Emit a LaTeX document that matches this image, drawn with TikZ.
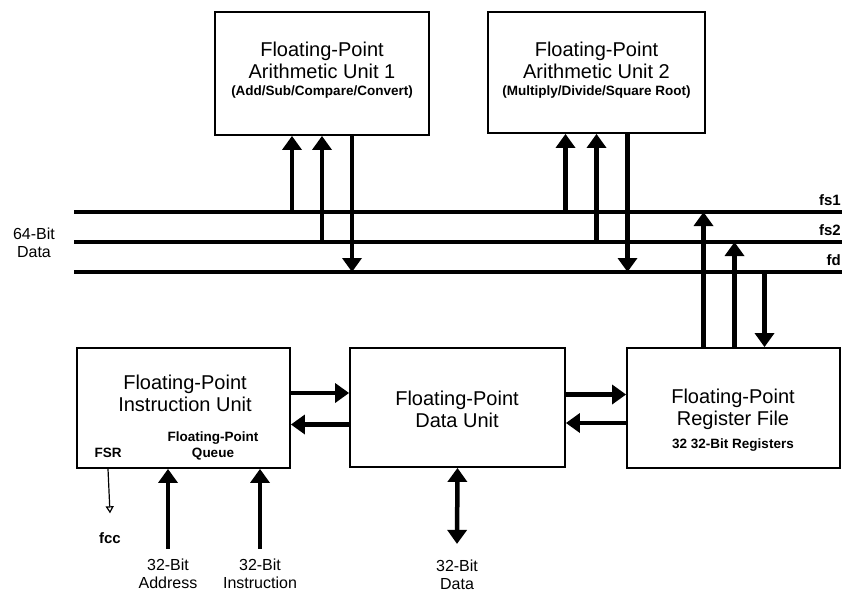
\documentclass[tikz,border=0pt]{standalone}
\usepackage{fontspec}
\setmainfont{Liberation Sans}
\usetikzlibrary{arrows.meta,calc}

\begin{document}
\begin{tikzpicture}[x=1pt,y=-1pt,
  every node/.style={font=\fontsize{20}{22}\selectfont,align=center,inner sep=0pt},
  unit/.style={draw,line width=1.8pt},
  subtext/.style={font=\bfseries\fontsize{13.5}{16}\selectfont},
  lbl/.style={font=\fontsize{16}{18}\selectfont},
  buslbl/.style={font=\bfseries\fontsize{15}{17}\selectfont},
  bus/.style={line width=4.5pt},
  wide/.style={line width=4.5pt,-{Triangle[width=19pt,length=14pt]}},
  wide2/.style={line width=4.5pt,{Triangle[width=19pt,length=14pt]}-{Triangle[width=19pt,length=14pt]}}]
\useasboundingbox (0,0) rectangle (842,594);
\node[unit,minimum width=214pt,minimum height=123pt] (AU1) at (322,73.5) {};
\node[unit,minimum width=217pt,minimum height=121pt] (AU2) at (596.5,72.5) {};
\node[unit,minimum width=213pt,minimum height=120pt] (IU) at (183.5,408) {};
\node[unit,minimum width=215pt,minimum height=119pt] (DU) at (457.5,407.5) {};
\node[unit,minimum width=213pt,minimum height=120pt] (RF) at (733.5,408) {};
\node (AU1t) at (322,60) {Floating-Point\\Arithmetic Unit 1};
\node[subtext] (AU1s) at (322,92) {(Add/Sub/Compare/Convert)};
\node (AU2t) at (596.5,60) {Floating-Point\\Arithmetic Unit 2};
\node[subtext] (AU2s) at (596.5,92) {(Multiply/Divide/Square Root)};
\node (IUt) at (185,393) {Floating-Point\\Instruction Unit};
\node[subtext] (FSR) at (108,453) {FSR};
\node[subtext] (FPQ) at (213,446) {Floating-Point\\Queue};
\node (DUt) at (457,409) {Floating-Point\\Data Unit};
\node (RFt) at (733,409) {Floating-Point\\Register File};
\node[subtext] (RFs) at (733,445) {32 32-Bit Registers};
\foreach \b/\y in {1/212,2/242,3/272}{
  \coordinate (W\b) at (74,\y);
  \coordinate (E\b) at (842,\y);
  \draw[bus] (W\b) -- (E\b);
}
\node[buslbl,anchor=south east] (fs1) at ([xshift=-1pt,yshift=6pt]E1) {fs1};
\node[buslbl,anchor=south east] (fs2) at ([xshift=-1pt,yshift=6pt]E2) {fs2};
\node[buslbl,anchor=south east] (fd) at ([xshift=-1pt,yshift=6pt]E3) {fd};
\node[lbl] (data64) at (34,243) {64-Bit\\Data};
\foreach \u/\dx/\s in {AU1/-30/W1,AU1/0/W2,AU2/-31/W1,AU2/0/W2}
  \draw[wide] ([xshift=\dx pt]\u.south |- \s) -- ([xshift=\dx pt]\u.south);
\draw[wide] ([xshift=30pt]AU1.south) -- ([xshift=30pt]AU1.south |- W3);
\draw[wide] ([xshift=31pt]AU2.south) -- ([xshift=31pt]AU2.south |- W3);
\draw[wide] ([xshift=-30pt]RF.north) -- ([xshift=-30pt]RF.north |- W1);
\draw[wide] ([xshift=1pt]RF.north) -- ([xshift=1pt]RF.north |- W2);
\draw[wide] ([xshift=31pt]RF.north |- W3) -- ([xshift=31pt]RF.north);
\draw[wide] ([yshift=15pt]IU.east) -- ([yshift=15pt]IU.east -| DU.west);
\draw[wide] ([yshift=-17pt]DU.west) -- ([yshift=-17pt]DU.west -| IU.east);
\draw[wide] ([yshift=13pt]DU.east) -- ([yshift=13pt]DU.east -| RF.west);
\draw[wide] ([yshift=-15pt]RF.west) -- ([yshift=-15pt]RF.west -| DU.east);
\node[lbl] (addr) at (168,574) {32-Bit\\Address};
\node[lbl] (instr) at (260,574) {32-Bit\\Instruction};
\node[lbl] (data32) at (457,575) {32-Bit\\Data};
\node[buslbl] (fcc) at (110,538) {fcc};
\draw[wide] ([yshift=10pt]addr.north) -- (addr |- IU.south);
\draw[wide] ([yshift=10pt]instr.north) -- (instr |- IU.south);
\draw[wide2] (DU.south) -- ([yshift=16pt]data32.north);
\draw[line width=1.2pt,-{Triangle[open,width=8pt,length=7pt]}] (FSR |- IU.south) -- ([yshift=19pt]fcc.north);
\end{tikzpicture}
\end{document}
